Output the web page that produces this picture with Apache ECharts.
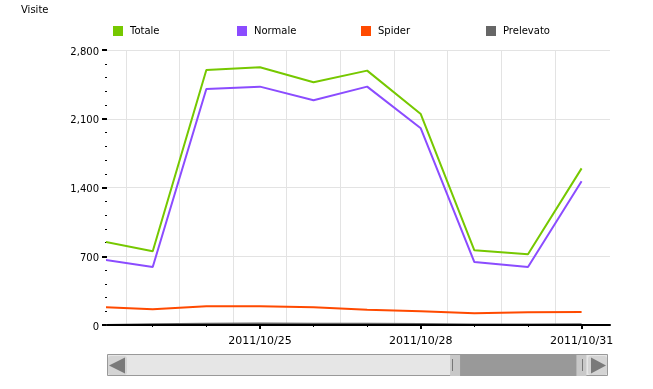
<!DOCTYPE html>
<html>
<head>
<meta charset="utf-8">
<script src="https://cdn.jsdelivr.net/npm/echarts@6/dist/echarts.min.js"></script>
<style>
html,body{margin:0;padding:0;background:#fff;}
#chart{width:653px;height:389px;}
</style>
</head>
<body>
<div id="chart"></div>
<script>
// ---- data ----
const dates = ['2011/10/22','2011/10/23','2011/10/24','2011/10/25','2011/10/26','2011/10/27','2011/10/28','2011/10/29','2011/10/30','2011/10/31'];
const totale    = [860, 750, 2597, 2624, 2471, 2590, 2148, 760, 720, 1595];
const normale   = [673, 590, 2403, 2427, 2288, 2427, 2003, 641, 590, 1463];
const spider    = [184, 160, 190, 190, 180, 156, 140, 119, 129, 132];
const prelevato = [0, 8, 12, 16, 14, 12, 10, 6, 4, 8];
const seriesNames = ['Totale', 'Normale', 'Spider', 'Prelevato'];
const yTicks = [0, 700, 1400, 2100, 2800];
const labelIdx = [3, 6, 9];          // labelled dates (indices into dates)
const dayIdx = [1, 2, 3, 4, 5, 6, 7, 8, 9];
const gridIdx = [0.5, 1.5, 2.5, 3.5, 4.5, 5.5, 6.5, 7.5, 8.5];
const viewRange = [0.147, 9.53];     // visible window of the zoomed axis (in day index)

const colors = ['#76c800', '#8b4cff', '#ff4a00', '#666666'];
const FONT = 'DejaVu Sans';

const chart = echarts.init(document.getElementById('chart'), null, {renderer: 'canvas'});

const toPts = arr => arr.map((v, i) => [i, v]);
const allSeries = [totale, normale, spider, prelevato];

const baseX = {
  type: 'value', min: viewRange[0], max: viewRange[1], position: 'bottom',
  axisLine: {show: false}, axisLabel: {show: false}, axisTick: {show: false}, splitLine: {show: false}
};

const option = {
  animation: false,
  backgroundColor: '#fff',
  title: {
    text: 'Visite', left: 21, top: 5, padding: 0,
    textStyle: {fontFamily: FONT, fontSize: 10, fontWeight: 'normal', color: '#000'}
  },
  legend: seriesNames.map((n, i) => ({
    data: [n], left: [113, 237, 361, 486][i], top: 26, padding: 0,
    icon: 'rect', itemWidth: 10, itemHeight: 10, itemGap: 0,
    selectedMode: false,
    textStyle: {fontFamily: FONT, fontSize: 10, color: '#000', padding: [0, 0, 0, 2]}
  })),
  grid: {left: 107, right: 43, top: 50, bottom: 64, containLabel: false},
  xAxis: [
    Object.assign({}, baseX, {
      z: 5,
      axisLine: {show: true, onZero: false, lineStyle: {color: '#000', width: 2}},
      axisTick: {show: true, customValues: labelIdx, length: 4, lineStyle: {color: '#000', width: 2}},
      axisLabel: {show: true, customValues: labelIdx, margin: 11,
        formatter: v => dates[Math.round(v)] || '',
        fontFamily: FONT, fontSize: 11, color: '#000'}
    }),
    Object.assign({}, baseX, {
      z: 5,
      axisTick: {show: true, customValues: dayIdx, length: 2, lineStyle: {color: '#000', width: 1}}
    }),
    Object.assign({}, baseX, {
      axisTick: {show: false, customValues: gridIdx},
      splitLine: {show: true, lineStyle: {color: '#e3e3e3', width: 1}}
    }),
    {type: 'value', min: 0, max: 100, show: false}
  ],
  yAxis: {
    type: 'value', min: yTicks[0], max: yTicks[yTicks.length - 1], interval: yTicks[1] - yTicks[0],
    axisLine: {show: false},
    axisTick: {show: true, length: 5, lineStyle: {color: '#000', width: 2}},
    minorTick: {show: true, splitNumber: 5, length: 2, lineStyle: {color: '#000', width: 1}},
    axisLabel: {margin: 8, fontFamily: FONT, fontSize: 10, color: '#000', verticalAlign: 'top', lineHeight: 4},
    splitLine: {show: true, lineStyle: {color: '#e3e3e3', width: 1}}
  },
  dataZoom: [{
    type: 'slider', xAxisIndex: 3, filterMode: 'none',
    start: 71.0, end: 98.9,
    left: 127, right: 66, top: 355, height: 21,
    z: 10,
    backgroundColor: 'transparent', borderColor: 'transparent', borderRadius: 0,
    fillerColor: '#999999',
    showDataShadow: false, showDetail: false, brushSelect: false,
    moveHandleSize: 0,
    handleIcon: 'path://M0,0H10V21H0Z', handleSize: '100%',
    handleStyle: {color: '#c8c8c8', borderWidth: 0, borderColor: 'transparent'},
    emphasis: {handleStyle: {color: '#c8c8c8', borderWidth: 0}},
    dataBackground: {lineStyle: {opacity: 0}, areaStyle: {opacity: 0}},
    selectedDataBackground: {lineStyle: {opacity: 0}, areaStyle: {opacity: 0}}
  }],
  graphic: [
    {type: 'rect', z: 0, shape: {x: 107.5, y: 354.5, width: 500, height: 21},
      style: {fill: '#e6e6e6', stroke: '#999', lineWidth: 1}},
    {type: 'rect', z: 1, shape: {x: 108, y: 356, width: 19, height: 19, r: 3}, style: {fill: '#d4d4d4'}},
    {type: 'rect', z: 1, shape: {x: 588, y: 356, width: 19, height: 19, r: 3}, style: {fill: '#d4d4d4'}},
    {type: 'polygon', z: 2, shape: {points: [[109, 365.5], [125, 357.5], [125, 373.5]]}, style: {fill: '#7a7a7a'}},
    {type: 'polygon', z: 2, shape: {points: [[591, 357.5], [591, 373.5], [606, 365.5]]}, style: {fill: '#7a7a7a'}},
    {type: 'rect', z: 100, shape: {x: 452, y: 359, width: 1, height: 12}, style: {fill: '#777'}},
    {type: 'rect', z: 100, shape: {x: 582, y: 359, width: 1, height: 12}, style: {fill: '#777'}}
  ],
  series: seriesNames.map((n, i) => ({
    name: n, type: 'line', xAxisIndex: 0, yAxisIndex: 0,
    data: toPts(allSeries[i]),
    showSymbol: false, symbol: 'none',
    color: colors[i],
    lineStyle: {color: colors[i], width: 2},
    z: 2 + (3 - i) * 0.1,
    clip: true
  }))
};

chart.setOption(option);
</script>
</body>
</html>
